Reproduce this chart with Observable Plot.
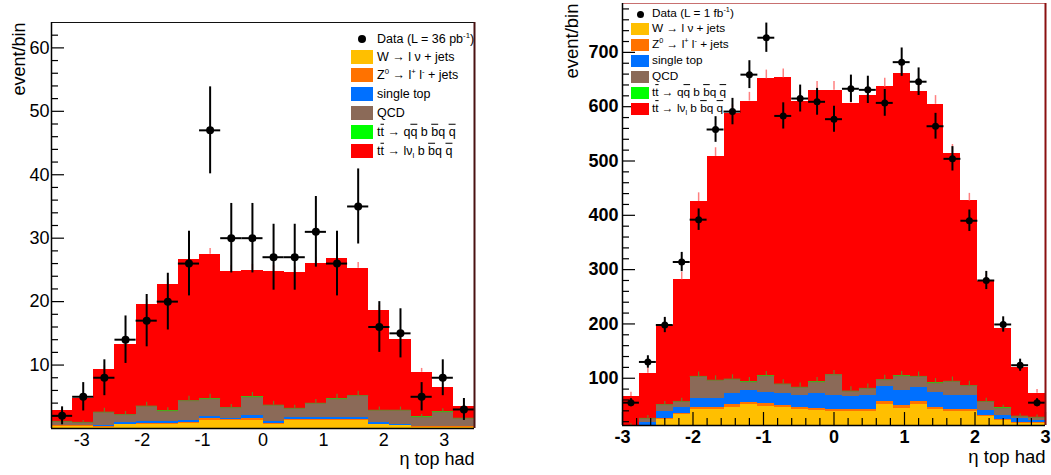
<!DOCTYPE html>
<html><head><meta charset="utf-8">
<script src="https://cdn.jsdelivr.net/npm/d3@7"></script>
<script src="https://cdn.jsdelivr.net/npm/@observablehq/plot@0.6"></script>
<style>
body{margin:0;background:#fff;}
#wrap{position:relative;width:1051px;height:475px;overflow:hidden;background:#fff;}
.panel{position:absolute;top:0;}
.lg{position:absolute;font-family:"Liberation Sans",Arial,Helvetica,sans-serif;color:#000;white-space:nowrap;line-height:1;}
.ol{text-decoration:overline;}
sup,sub{font-size:62%;line-height:0;}
</style></head><body><div id="wrap"></div>
<script>
// ---------- common ----------
const seriesNames = ["W", "Z", "single top", "QCD", "tt had", "tt lep"];
const seriesColors = ["#ffbf00", "#ff7200", "#0070ff", "#8b6a58", "#00ff00", "#ff0000"];
const xTicks = [-3, -2, -1, 0, 1, 2, 3];

// ---------- left panel (L = 36 pb-1) ----------
const leftEdges = [-3.5, -3.15, -2.8, -2.45, -2.1, -1.75, -1.4, -1.05, -0.7, -0.35, 0, 0.35, 0.7, 1.05, 1.4, 1.75, 2.1, 2.45, 2.8, 3.15, 3.5];
const leftData = [2, 5, 8, 14, 17, 20, 26, 47, 30, 30, 27, 27, 31, 26, 35, 16, 15, 5, 8, 3];
const leftW = [0.3, 0.3, 0.2, 0.6, 0.7, 0.7, 0.8, 1.3, 1.2, 1.3, 0.7, 1.2, 1.2, 1.2, 1.2, 0.6, 0.4, 0.2, 0.2, 0.2];
const leftZ = [0.1, 0.1, 0.05, 0.1, 0.1, 0.1, 0.1, 0.2, 0.15, 0.2, 0.1, 0.15, 0.15, 0.15, 0.15, 0.1, 0.1, 0.05, 0.05, 0.05];
const leftSingleTop = [0.1, 0.1, 0.2, 0.2, 0.3, 0.3, 0.4, 0.4, 0.3, 0.5, 0.3, 0.35, 0.35, 0.45, 0.35, 0.2, 0.2, 0.1, 0.1, 0.1];
const leftQCD = [0.6, 0.45, 2.1, 1.25, 2.4, 1.65, 3.05, 2.75, 1.6, 2.95, 2.55, 1.45, 2.25, 2.85, 3.45, 1.95, 2.15, 1.45, 2.25, 1.25];
const leftTTHad = [0.02, 0.02, 0.03, 0.03, 0.03, 0.03, 0.03, 0.03, 0.03, 0.03, 0.03, 0.03, 0.03, 0.03, 0.03, 0.03, 0.03, 0.02, 0.02, 0.02];
const leftTTLep = [1.65, 3.7, 6.7, 11.1, 16.0, 19.9, 22.2, 22.8, 21.5, 20.0, 21.1, 21.4, 22.1, 22.1, 20.1, 15.7, 11.2, 7.05, 3.85, 1.8];
const leftMCErr = [0.4, 0.5, 0.6, 0.7, 0.8, 0.9, 0.9, 0.9, 0.9, 0.9, 0.9, 0.9, 0.9, 0.9, 0.9, 0.8, 0.7, 0.6, 0.5, 0.4];
const leftQCDErr = [0.3, 0.3, 0.6, 0.5, 0.6, 0.5, 0.7, 0.7, 0.5, 0.7, 0.6, 0.5, 0.6, 0.7, 0.7, 0.5, 0.5, 0.4, 0.5, 0.4];
const leftYTicks = [10, 20, 30, 40, 50, 60];

// ---------- right panel (L = 1 fb-1) ----------
const rightEdges = [-3, -2.76, -2.52, -2.28, -2.04, -1.8, -1.56, -1.32, -1.08, -0.84, -0.6, -0.36, -0.12, 0.12, 0.36, 0.6, 0.84, 1.08, 1.32, 1.56, 1.8, 2.04, 2.28, 2.52, 2.76, 3];
const rightData = [55, 130, 198, 314, 392, 558, 591, 659, 727, 583, 615, 609, 577, 633, 631, 607, 682, 646, 564, 504, 390, 280, 199, 124, 55];
const rightW = [4, 6, 24, 33, 43, 43, 47, 51, 48, 46, 42, 40, 38, 39, 39, 52, 45, 52, 42, 39, 39, 29, 22, 17, 16];
const rightZ = [1, 1, 2, 3, 4, 4, 4, 5, 5, 4, 4, 4, 4, 4, 4, 5, 4, 5, 4, 4, 4, 3, 2, 2, 2];
const rightSingleTop = [3, 12, 12, 11, 15, 16, 20, 21, 21, 21, 22, 27, 26, 23, 25, 28, 28, 26, 28, 25, 25, 8, 8, 6, 5];
const rightQCD = [4, 7, 13, 10, 41, 33, 27, 16, 30, 18, 15, 22, 38, 10, 13, 12, 27, 20, 17, 26, 18, 17, 13, 5, 5];
const rightTTHad = [0.2, 0.2, 0.3, 0.3, 0.4, 0.4, 0.4, 0.4, 0.4, 0.4, 0.4, 0.4, 0.4, 0.4, 0.4, 0.4, 0.4, 0.4, 0.4, 0.4, 0.4, 0.3, 0.3, 0.2, 0.2];
const rightTTLep = [54, 83, 146, 224, 322, 412, 489, 517, 547, 564, 527, 537, 524, 530, 539, 539, 556, 525, 513, 420, 340, 221, 147, 89, 44];
const rightMCErr = [8, 10, 12, 14, 16, 16, 16, 16, 16, 16, 16, 16, 16, 16, 16, 16, 16, 16, 16, 16, 14, 12, 10, 8, 7];
const rightQCDErr = [4, 5, 6, 6, 8, 8, 8, 8, 8, 8, 8, 8, 8, 8, 8, 8, 8, 8, 8, 8, 8, 6, 5, 4, 4];
const rightYTicks = [100, 200, 300, 400, 500, 600, 700];

const FONT = '"Liberation Sans", Arial, Helvetica, sans-serif';

function buildPanel(c) {
  const n = c.edges.length - 1;
  const rows = [];
  seriesNames.forEach((s, k) => {
    for (let i = 0; i < n; i++) rows.push({s, x1: c.edges[i], x2: c.edges[i + 1], v: c.comps[k][i]});
  });
  const bins = d3.range(n).map(i => {
    let cum = 0, qtop = 0;
    for (let k = 0; k < seriesNames.length; k++) { cum += c.comps[k][i]; if (k === 4) qtop = cum; }
    return {x1: c.edges[i], x2: c.edges[i + 1], xc: (c.edges[i] + c.edges[i + 1]) / 2,
            d: c.data[i], e: Math.sqrt(c.data[i]), top: cum, qtop, re: c.mcErr[i], qe: c.qcdErr[i]};
  });
  const fw = c.width - c.mL - c.mR, fh = c.height - c.mT - c.mB;
  const marks = [
    Plot.rectY(rows, Plot.stackY({x1: "x1", x2: "x2", y: "v", fill: "s", order: seriesNames, clip: true, shapeRendering: "crispEdges"})),
    Plot.ruleY(bins, {y: "qtop", x1: "x1", x2: "x2", stroke: "#6f7f2c", strokeWidth: 1, clip: true}),
    Plot.ruleX(bins, {x: "xc", y1: "qtop", y2: d => d.qtop + d.qe, stroke: "#6f7f2c", strokeWidth: 1.2, clip: true}),
    Plot.ruleX(bins, {x: "xc", y1: "top", y2: d => d.top + d.re, stroke: "#ff8080", strokeWidth: 1.5, clip: true}),
    Plot.tickY(c.yMajor, {y: d => d, insetRight: fw - 13, stroke: "#000", strokeWidth: 1.2}),
    Plot.tickY(c.yMinor, {y: d => d, insetRight: fw - 7, stroke: "#000", strokeWidth: 1.2})
  ];
  if (c.xTicksInside) {
    marks.push(
      Plot.tickX(c.xMajor, {x: d => d, insetTop: fh - 13, stroke: "#000", strokeWidth: 1.2}),
      Plot.tickX(c.xMinor, {x: d => d, insetTop: fh - 7, stroke: "#000", strokeWidth: 1.2})
    );
  }
  marks.push(
    Plot.ruleY(bins, {y: "d", x1: "x1", x2: "x2", stroke: "#000", strokeWidth: c.barW, clip: true}),
    Plot.ruleX(bins, {x: "xc", y1: d => d.d - d.e, y2: d => d.d + d.e, stroke: "#000", strokeWidth: c.barW, clip: true}),
    Plot.dot(bins, {x: "xc", y: "d", r: c.dotR, fill: "#000", stroke: null}),
    Plot.ruleY([c.yDomain[1]], {stroke: c.topColor, strokeWidth: 1.2}),
    Plot.ruleX([c.xDomain[1]], {stroke: c.rightColor, strokeWidth: 2}),
    Plot.ruleX([c.xDomain[0]], {stroke: "#000", strokeWidth: 1.5}),
    Plot.ruleY([c.yDomain[0]], {stroke: "#000", strokeWidth: 1.5}),
    Plot.axisY({ticks: c.yMajor, tickSize: 0, tickPadding: c.yPad, tickFormat: d => String(d), label: null, fontWeight: c.bold ? "bold" : "normal"}),
    Plot.axisX({ticks: c.xMajor, tickSize: 0, tickPadding: c.xPad, tickFormat: d => String(d), label: null, fontWeight: c.bold ? "bold" : "normal"}),
    Plot.text(["event/bin"], {text: d => d, frameAnchor: "top-left", rotate: -90, textAnchor: "end", lineAnchor: "bottom", dx: c.yTitleX - c.mL, dy: 0, fontSize: c.titleSize, fontWeight: "normal"}),
    Plot.text(["η top had"], {text: d => d, frameAnchor: "bottom-right", textAnchor: "end", lineAnchor: "bottom", dy: c.xTitleDy, fontSize: c.titleSize, fontWeight: "normal"})
  );
  return Plot.plot({
    width: c.width, height: c.height,
    marginLeft: c.mL, marginRight: c.mR, marginTop: c.mT, marginBottom: c.mB,
    x: {domain: c.xDomain, label: null},
    y: {domain: c.yDomain, label: null},
    color: {domain: seriesNames, range: seriesColors},
    style: {fontFamily: FONT, fontSize: c.fontSize + "px", background: "transparent", overflow: "visible"},
    marks
  });
}

const wrap = document.getElementById("wrap");
function place(el, left) {
  const d = document.createElement("div");
  d.className = "panel"; d.style.left = left + "px";
  d.appendChild(el); wrap.appendChild(d);
}

place(buildPanel({
  edges: leftEdges, data: leftData,
  comps: [leftW, leftZ, leftSingleTop, leftQCD, leftTTHad, leftTTLep],
  mcErr: leftMCErr, qcdErr: leftQCDErr,
  xDomain: [-3.5, 3.5], yDomain: [0, 64],
  yMajor: leftYTicks, yMinor: d3.range(2, 64, 2).filter(v => v % 10 !== 0),
  xMajor: xTicks, xMinor: [], xTicksInside: false,
  width: 480, height: 475, mL: 51, mR: 6, mT: 22, mB: 47,
  bold: false, fontSize: 18, titleSize: 18, yPad: 2, xPad: 5,
  yTitleX: 24, xTitleDy: 36, dotR: 4, barW: 2,
  topColor: "#111", rightColor: "#4a1212"
}), 0);

place(buildPanel({
  edges: rightEdges, data: rightData,
  comps: [rightW, rightZ, rightSingleTop, rightQCD, rightTTHad, rightTTLep],
  mcErr: rightMCErr, qcdErr: rightQCDErr,
  xDomain: [-3, 3], yDomain: [13, 790],
  yMajor: rightYTicks, yMinor: d3.range(20, 790, 20).filter(v => v % 100 !== 0),
  xMajor: xTicks, xMinor: d3.range(-2.8, 3, 0.2).map(v => Math.round(v * 10) / 10).filter(v => Math.abs(v - Math.round(v)) > 1e-6),
  xTicksInside: true,
  width: 491, height: 475, mL: 62, mR: 6, mT: 3, mB: 50,
  bold: true, fontSize: 18, titleSize: 18.5, yPad: 4, xPad: 5,
  yTitleX: 17, xTitleDy: 37, dotR: 3.5, barW: 2,
  topColor: "#c87070", rightColor: "#8a1010"
}), 560);

// ---------- legends ----------
function legend(cfg) {
  const add = (html, css) => { const e = document.createElement("div"); e.className = "lg"; Object.assign(e.style, css); e.innerHTML = html; wrap.appendChild(e); return e; };
  const labels = cfg.labels;
  add("", {left: (cfg.dotX - cfg.dotR) + "px", top: (cfg.rows[0] - cfg.dotR) + "px", width: 2 * cfg.dotR + "px", height: 2 * cfg.dotR + "px", borderRadius: "50%", background: "#000"});
  add(labels[0], {left: cfg.textX + "px", top: cfg.rows[0] + "px", transform: "translateY(-50%)", fontSize: cfg.fs + "px"});
  seriesNames.forEach((s, k) => {
    const cy = cfg.rows[k + 1];
    add("", {left: cfg.swX + "px", top: (cy - cfg.swH / 2) + "px", width: cfg.swW + "px", height: cfg.swH + "px", background: seriesColors[k]});
    add(labels[k + 1], {left: cfg.textX + "px", top: cy + "px", transform: "translateY(-50%)", fontSize: cfg.fs + "px"});
  });
}
const ttl = 't<span class="ol">t</span>';
const legendLeftLabels = [
  'Data (L = 36 pb<sup>-1</sup>)',
  'W → l ν + jets',
  'Z<sup>0</sup> → l<sup>+</sup> l<sup>-</sup> + jets',
  'single top',
  'QCD',
  ttl + ' → q<span class="ol">q</span> b <span class="ol">b</span>q <span class="ol">q</span>',
  ttl + ' → lν<sub>l</sub> b <span class="ol">b</span>q <span class="ol">q</span>'
];
const legendRightLabels = [
  'Data (L = 1 fb<sup>-1</sup>)',
  'W → l ν + jets',
  'Z<sup>0</sup> → l<sup>+</sup> l<sup>-</sup> + jets',
  'single top',
  'QCD',
  ttl + ' → q<span class="ol">q</span> b <span class="ol">b</span>q <span class="ol">q</span>',
  ttl + ' → lν<sub>l</sub> b <span class="ol">b</span>q <span class="ol">q</span>'
];
legend({labels: legendLeftLabels, rows: [39, 57, 74.7, 93.7, 113, 132, 151], dotX: 361.7, dotR: 4, swX: 351, swW: 22, swH: 14, textX: 377, fs: 12.5});
legend({labels: legendRightLabels, rows: [14, 28.8, 45.2, 60.8, 76.8, 92.8, 108.8], dotX: 640, dotR: 3.5, swX: 631, swW: 18, swH: 12, textX: 652, fs: 11.8});
</script></body></html>
